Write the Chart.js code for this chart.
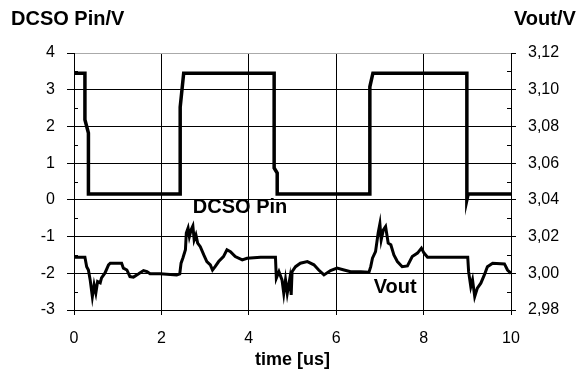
<!DOCTYPE html>
<html>
<head>
<meta charset="utf-8">
<script src="https://cdn.jsdelivr.net/npm/chart.js@4.4.0/dist/chart.umd.min.js"></script>
<style>
  body { margin: 0; background: #fff; }
  #wrap { width: 585px; height: 371px; }
</style>
</head>
<body>
<div id="wrap"><canvas id="myChart" width="585" height="371"></canvas></div>
<script>
// DCSO Pin trace (left axis, V)
const pinTime = [0, 0.25, 0.25, 0.33, 0.33, 2.43, 2.43, 2.51, 4.58, 4.58, 4.65, 4.65, 6.77, 6.77, 6.84, 8.99, 8.99, 9.02, 10];
const pinVolt = [3.45, 3.45, 2.18, 1.82, 0.16, 0.16, 2.53, 3.45, 3.45, 0.87, 0.73, 0.16, 0.16, 3.08, 3.45, 3.45, 0.0, 0.16, 0.16];

// Vout trace (right axis, V)
const voutTime = [0, 0.25, 0.29, 0.33, 0.37, 0.42, 0.46, 0.50, 0.54, 0.60, 0.63, 0.71, 0.79, 0.83, 1.09, 1.13, 1.21, 1.28, 1.36, 1.48, 1.59, 1.67, 1.74, 1.97, 2.35, 2.42, 2.45, 2.49, 2.55, 2.57, 2.61, 2.64, 2.68, 2.72, 2.75, 2.79, 2.83, 2.89, 2.97, 3.04, 3.12, 3.17, 3.23, 3.31, 3.42, 3.50, 3.58, 3.69, 3.85, 3.96, 4.27, 4.61, 4.63, 4.69, 4.76, 4.80, 4.84, 4.88, 4.94, 4.97, 4.99, 5.07, 5.18, 5.34, 5.49, 5.60, 5.72, 5.87, 6.02, 6.18, 6.33, 6.56, 6.75, 6.79, 6.83, 6.90, 6.96, 7.00, 7.03, 7.08, 7.13, 7.19, 7.25, 7.32, 7.40, 7.51, 7.63, 7.74, 7.86, 7.95, 8.01, 8.09, 9.01, 9.03, 9.08, 9.12, 9.17, 9.23, 9.31, 9.39, 9.46, 9.58, 9.85, 9.92, 10];
const voutVolt = [3.0088, 3.0088, 3.0036, 3.0018, 2.9964, 2.9873, 2.9937, 2.9893, 2.9955, 2.9948, 2.9975, 3.0002, 3.0046, 3.0055, 3.0055, 3.0028, 3.0018, 2.9982, 2.9979, 2.9997, 3.0015, 3.0009, 2.9997, 2.9997, 2.9991, 2.9997, 3.0055, 3.0082, 3.0128, 3.0219, 3.0246, 3.0200, 3.0237, 3.0258, 3.0182, 3.0209, 3.0164, 3.0145, 3.0100, 3.0064, 3.0046, 3.0018, 3.0036, 3.0064, 3.0091, 3.0128, 3.0118, 3.0091, 3.0073, 3.0082, 3.0088, 3.0088, 2.9973, 3.0009, 2.9964, 2.9891, 2.9964, 2.9891, 2.9973, 2.9882, 3.0009, 3.0036, 3.0055, 3.0064, 3.0046, 3.0018, 2.9991, 3.0015, 3.0028, 3.0018, 3.0009, 3.0009, 3.0006, 3.0036, 3.0082, 3.0118, 3.0219, 3.0269, 3.0182, 3.0237, 3.0255, 3.0164, 3.0155, 3.0100, 3.0064, 3.0036, 3.0040, 3.0091, 3.0110, 3.0137, 3.0110, 3.0088, 3.0088, 3.0009, 2.9927, 2.9964, 2.9873, 2.9919, 2.9946, 2.9991, 3.0036, 3.0055, 3.0051, 3.0018, 3.0000];

const xTicks = [0, 2, 4, 6, 8, 10];
const leftTicks = [-3, -2, -1, 0, 1, 2, 3, 4];
const rightTicks = [2.98, 3.00, 3.02, 3.04, 3.06, 3.08, 3.10, 3.12];

const FONT = "'Liberation Sans', Arial, sans-serif";
Chart.defaults.font.family = FONT;
Chart.defaults.color = '#000';

const toPoints = (xs, ys) => xs.map((x, i) => ({ x: x, y: ys[i] }));

// text + minor ticks
const decor = {
  id: 'decor',
  afterDraw(chart) {
    const c = chart.ctx, a = chart.chartArea;
    const yl = chart.scales.yL, yr = chart.scales.yR, x = chart.scales.x;
    c.save();
    c.strokeStyle = '#000';
    c.lineWidth = 1;
    // minor ticks, inside the plot
    for (let i = 0; i < leftTicks.length - 1; i++) {
      const v = (leftTicks[i] + leftTicks[i + 1]) / 2;
      const py = Math.round(yl.getPixelForValue(v)) + 0.5;
      c.beginPath(); c.moveTo(a.left, py); c.lineTo(a.left + 4, py); c.stroke();
    }
    for (let i = 0; i < rightTicks.length - 1; i++) {
      const v = (rightTicks[i] + rightTicks[i + 1]) / 2;
      const py = Math.round(yr.getPixelForValue(v)) + 0.5;
      c.beginPath(); c.moveTo(a.right, py); c.lineTo(a.right - 4, py); c.stroke();
    }
    c.fillStyle = '#000';
    c.font = 'bold 20px ' + FONT;
    c.textBaseline = 'middle';
    c.textAlign = 'left';
    c.fillText('DCSO Pin/V', 11, 19);
    c.fillText('Vout/V', 514, 19);
    c.textAlign = 'center';
    c.fillText('DCSO Pin', x.getPixelForValue(3.8), yl.getPixelForValue(-0.2));
    c.fillText('Vout', x.getPixelForValue(7.35), yl.getPixelForValue(-2.4));
    c.restore();
  }
};

new Chart(document.getElementById('myChart'), {
  type: 'line',
  data: {
    datasets: [{
      label: 'DCSO Pin',
      data: toPoints(pinTime, pinVolt),
      yAxisID: 'yL',
      borderColor: '#000',
      borderWidth: 3.5,
      pointRadius: 0,
      tension: 0
    }, {
      label: 'Vout',
      data: toPoints(voutTime, voutVolt),
      yAxisID: 'yR',
      borderColor: '#000',
      borderWidth: 3,
      pointRadius: 0,
      tension: 0
    }]
  },
  options: {
    responsive: false,
    animation: false,
    layout: { padding: { top: 53, left: 0, right: 0, bottom: 0 } },
    plugins: { legend: { display: false }, tooltip: { enabled: false } },
    scales: {
      x: {
        type: 'linear',
        min: 0, max: 10,
        afterBuildTicks: s => { s.ticks = xTicks.map(v => ({ value: v })); },
        afterFit: s => { s.height = 61; },
        ticks: { font: { size: 16 }, color: '#000', padding: 14, maxRotation: 0 },
        grid: { color: '#000', tickColor: '#000', tickLength: 5 },
        border: { color: '#000' },
        title: { display: true, text: 'time [us]', font: { size: 18, weight: 'bold' }, color: '#000', padding: { top: 0, bottom: 0 } }
      },
      yL: {
        position: 'left',
        min: -3, max: 4,
        afterBuildTicks: s => { s.ticks = leftTicks.map(v => ({ value: v })); },
        afterFit: s => { s.width = 74; },
        ticks: { font: { size: 16 }, color: '#000', padding: 12 },
        grid: {
          color: c => (c.tick && c.tick.value === 4) ? '#aaa' : '#000',
          tickColor: '#000', tickLength: 7
        },
        border: { color: '#000' }
      },
      yR: {
        position: 'right',
        min: 2.98, max: 3.12,
        afterBuildTicks: s => { s.ticks = rightTicks.map(v => ({ value: v })); },
        afterFit: s => { s.width = 74; },
        ticks: { font: { size: 16 }, color: '#000', padding: 12, callback: v => v.toFixed(2).replace('.', ',') },
        grid: { drawOnChartArea: false, tickColor: '#000', tickLength: 5 },
        border: { color: '#000' }
      }
    }
  },
  plugins: [decor]
});
</script>
</body>
</html>
